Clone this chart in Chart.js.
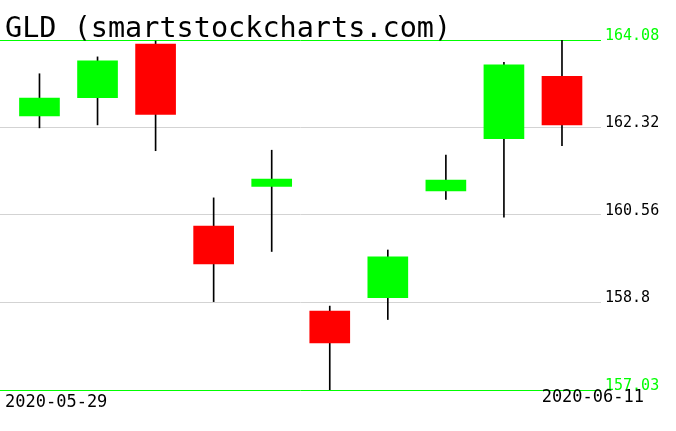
<!DOCTYPE html>
<html>
<head>
<meta charset="utf-8">
<script src="https://cdn.jsdelivr.net/npm/chart.js@4.4.0/dist/chart.umd.min.js"></script>
<style>
    body { margin: 0; background: #fff; }
    #wrap { width: 676px; height: 431px; }
</style>
</head>
<body>
<div id="wrap"><canvas id="stockChart" width="676" height="431"></canvas></div>
<script>
const dates = ['2020-05-29', '2020-06-01', '2020-06-02', '2020-06-03', '2020-06-04',
               '2020-06-05', '2020-06-08', '2020-06-09', '2020-06-10', '2020-06-11'];
const opens  = [162.55, 162.92, 164.00, 160.33, 161.13, 158.62, 158.89, 161.04, 162.09, 163.35];
const highs  = [163.40, 163.74, 164.06, 160.90, 161.86, 158.72, 159.85, 161.76, 163.63, 164.08];
const lows   = [162.31, 162.37, 161.85, 158.81, 159.82, 157.03, 158.45, 160.87, 160.51, 161.95];
const closes = [162.91, 163.66, 162.58, 159.57, 161.28, 157.98, 159.71, 161.26, 163.58, 162.37];
const tickLabels = ['157.03', '158.8', '160.56', '162.32', '164.08'];
const title = 'GLD (smartstockcharts.com)';

function initializeStockChart() {
    const canvas = document.getElementById('stockChart');
    const yMin = parseFloat(tickLabels[0]);
    const yMax = parseFloat(tickLabels[tickLabels.length - 1]);
    const isEdge = v => Math.abs(v - yMin) < 0.001 || Math.abs(v - yMax) < 0.001;

    const wicks = dates.map((d, i) => ({ x: i, y: [lows[i], highs[i]] }));
    const bodies = dates.map((d, i) => ({ x: i, y: [opens[i], closes[i]] }));
    const bodyColors = dates.map((d, i) => closes[i] >= opens[i] ? '#00ff00' : '#ff0000');

    // title and first/last date
    const textPlugin = {
        id: 'texts',
        afterDraw(chart) {
            const ctx = chart.ctx;
            const area = chart.chartArea;
            ctx.save();
            ctx.fillStyle = '#000';
            ctx.textBaseline = 'alphabetic';
            ctx.font = '28.5px "DejaVu Sans Mono"';
            ctx.textAlign = 'left';
            ctx.fillText(title, 5, 37);
            ctx.font = '17px "DejaVu Sans Mono"';
            ctx.fillText(dates[0], 5, area.bottom + 17);
            ctx.textAlign = 'right';
            ctx.fillText(dates[dates.length - 1], 644, area.bottom + 12);
            ctx.restore();
        }
    };

    new Chart(canvas, {
        type: 'bar',
        data: {
            datasets: [{
                data: bodies,
                backgroundColor: bodyColors,
                barThickness: 40,
                grouped: false,
                order: 0
            }, {
                data: wicks,
                backgroundColor: '#000',
                barThickness: 1,
                grouped: false,
                order: 1
            }]
        },
        options: {
            responsive: false,
            animation: false,
            layout: { padding: { top: 40, bottom: 41, left: 0, right: 0 } },
            plugins: { legend: { display: false }, tooltip: { enabled: false } },
            scales: {
                x: {
                    type: 'linear',
                    display: false,
                    offset: false,
                    min: -0.68,
                    max: 9.672
                },
                y: {
                    position: 'right',
                    min: yMin,
                    max: yMax,
                    afterBuildTicks: axis => {
                        axis.ticks = tickLabels.map(t => ({ value: parseFloat(t) }));
                    },
                    afterFit: axis => { axis.width = 75; },
                    border: { display: false },
                    grid: {
                        drawTicks: false,
                        color: c => isEdge(c.tick.value) ? '#00ff00' : '#d3d3d3',
                        lineWidth: 1
                    },
                    ticks: {
                        padding: 4,
                        labelOffset: -4,
                        font: { family: 'DejaVu Sans Mono', size: 15 },
                        color: c => isEdge(c.tick.value) ? '#00ff00' : '#000',
                        callback: (v, i) => tickLabels[i]
                    }
                }
            }
        },
        plugins: [textPlugin]
    });
}

window.addEventListener('load', initializeStockChart);
</script>
</body>
</html>
